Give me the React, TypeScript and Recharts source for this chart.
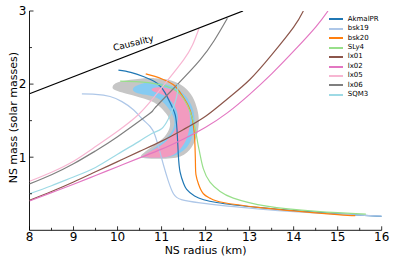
import React from 'react';
import { ComposedChart, Scatter, XAxis, YAxis, Legend, ReferenceDot, Label, Curve } from 'recharts';

type P = [number, number];

const xTicks = [8, 8.5, 9, 9.5, 10, 10.5, 11, 11.5, 12, 12.5, 13, 13.5, 14, 14.5, 15, 15.5, 16];
const yTicks = [0.5, 1, 1.5, 2, 2.5, 3];

const akmalPR: P[] = [[10.02,2.19],[10.3,2.16],[10.6,2.1],[10.89,2.015],[11.08,1.88],[11.23,1.7],[11.31,1.58],[11.35,1.38],[11.38,1.04],[11.42,0.8],[11.5,0.64],[11.57,0.56],[11.75,0.47],[12.25,0.38],[13.24,0.31],[14,0.27],[15,0.225],[16,0.19]];
const bsk19: P[] = [[9.19,1.865],[9.5,1.86],[9.83,1.83],[10.1,1.76],[10.36,1.65],[10.55,1.53],[10.74,1.42],[10.85,1.3],[10.95,1.1],[11.04,0.9],[11.15,0.68],[11.27,0.5],[11.45,0.42],[11.875,0.375],[12.5,0.33],[13.24,0.29],[14,0.255],[15,0.22],[16,0.195]];
const bsk20: P[] = [[10.64,2.14],[10.85,2.105],[11.05,2.06],[11.27,1.99],[11.45,1.86],[11.61,1.7],[11.69,1.55],[11.74,1.35],[11.76,1.13],[11.77,0.9],[11.78,0.766],[11.84,0.63],[11.95,0.5],[12.1,0.44],[12.4,0.38],[13.24,0.31],[14,0.265],[15,0.215],[15.4,0.2]];
const sly4: P[] = [[10.06,2.04],[10.5,2.03],[10.9,2.0],[11.27,1.93],[11.5,1.8],[11.65,1.62],[11.76,1.4],[11.82,1.2],[11.87,1.05],[11.95,0.84],[12.1,0.66],[12.33,0.53],[12.63,0.44],[13.39,0.33],[14.53,0.26],[15.64,0.22]];
const lx01: P[] = [[8,0.41],[8.5,0.53],[9,0.66],[9.5,0.8],[10,0.94],[10.5,1.08],[11,1.22],[11.5,1.38],[12,1.56],[12.5,1.8],[13,2.06],[13.5,2.4],[14,2.78],[14.22,3.0]];
const lx02: P[] = [[8,0.4],[8.5,0.515],[9,0.63],[9.5,0.75],[10,0.87],[10.5,0.99],[11,1.11],[11.5,1.25],[12,1.41],[12.5,1.61],[13,1.86],[13.5,2.14],[14,2.45],[14.5,2.78],[14.78,3.0]];
const lx05: P[] = [[8,0.67],[8.5,0.795],[9,0.945],[9.5,1.145],[10,1.355],[10.47,1.58],[10.8,1.8],[11.15,2.06],[11.5,2.33],[11.7,2.53],[11.85,2.76]];
const lx06: P[] = [[8,0.634],[8.5,0.76],[9,0.91],[9.49,1.083],[10,1.28],[10.7,1.583],[10.85,1.674],[11.4,2.02],[11.875,2.33],[12.2,2.6],[12.495,2.9]];
const sqm3: P[] = [[8,0.5],[8.5,0.61],[9,0.73],[9.5,0.86],[10,1.04],[10.5,1.22],[10.8,1.33],[11.0,1.39],[11.15,1.52],[11.28,1.7],[11.35,1.85],[11.37,1.95],[11.35,2.0]];
const causality: P[] = [[8, 1.868], [12.85, 3.0]];

const grayBand: P[] = [[9.87,1.96],[9.95,2.03],[10.4,2.07],[10.85,2.09],[11.23,2.06],[11.53,1.97],[11.72,1.83],[11.82,1.65],[11.86,1.5],[11.82,1.31],[11.7,1.13],[11.47,0.99],[10.97,0.975],[10.47,0.98],[10.56,1.05],[10.85,1.17],[11.08,1.27],[11.2,1.4],[11.2,1.52],[11.08,1.62],[10.85,1.76],[10.51,1.82],[10.17,1.87],[9.9,1.92]];
const blueBand: P[] = [[10.31,1.944],[10.51,2.01],[10.85,2.03],[11.19,1.99],[11.47,1.9],[11.65,1.76],[11.74,1.62],[11.76,1.45],[11.69,1.24],[11.56,1.11],[11.31,1.01],[10.97,0.99],[10.63,0.99],[10.58,1.02],[10.85,1.13],[11.1,1.24],[11.28,1.38],[11.31,1.515],[11.19,1.65],[10.97,1.815],[10.63,1.856],[10.38,1.88]];
const pinkBand: P[] = [[10.74,1.95],[11.08,1.965],[11.375,1.9],[11.56,1.79],[11.65,1.62],[11.65,1.41],[11.56,1.215],[11.375,1.065],[11.15,0.99],[10.74,0.99],[10.51,1.0],[10.74,1.08],[11.01,1.16],[11.24,1.3],[11.375,1.45],[11.375,1.62],[11.24,1.77],[11.01,1.87],[10.78,1.9]];

const series = [
  { name: 'AkmalPR', color: '#1f77b4', data: akmalPR },
  { name: 'bsk19', color: '#aec7e8', data: bsk19 },
  { name: 'bsk20', color: '#ff7f0e', data: bsk20 },
  { name: 'SLy4', color: '#98df8a', data: sly4 },
  { name: 'lx01', color: '#8c564b', data: lx01 },
  { name: 'lx02', color: '#e377c2', data: lx02 },
  { name: 'lx05', color: '#f7b6d2', data: lx05 },
  { name: 'lx06', color: '#7f7f7f', data: lx06 },
  { name: 'SQM3', color: '#9edae5', data: sqm3 },
];

const bands = [
  { name: 'gray', color: '#c6c6c6', data: grayBand },
  { name: 'blue', color: '#86cbf2', data: blueBand },
  { name: 'pink', color: '#f29bbf', data: pinkBand },
];

const toData = (pts: P[]) => pts.map(([r, m]) => ({ r, m }));
const FONT = 'DejaVu Sans';
const isMajor = (v: number) => Math.abs(v - Math.round(v)) < 1e-6;

const BottomTick = (p: any) => {
  const { x, y, payload } = p;
  const v = payload.value;
  const major = isMajor(v);
  return (
    <g>
      <line x1={x} x2={x} y1={y} y2={y - (major ? 4 : 2.5)} stroke="#000" strokeWidth={0.8} />
      {major && (
        <text x={x} y={y + 11} textAnchor="middle" fontSize={12} fontFamily={FONT} fill="#000">{v}</text>
      )}
    </g>
  );
};
const TopTick = (p: any) => {
  const { x, y, payload } = p;
  const major = isMajor(payload.value);
  return <line x1={x} x2={x} y1={y} y2={y + (major ? 4 : 2.5)} stroke="#000" strokeWidth={0.8} />;
};
const LeftTick = (p: any) => {
  const { x, y, payload } = p;
  const v = payload.value;
  const major = isMajor(v);
  return (
    <g>
      <line x1={x} x2={x + (major ? 4 : 2.5)} y1={y} y2={y} stroke="#000" strokeWidth={0.8} />
      {major && (
        <text x={x - 3} y={y + 4.3} textAnchor="end" fontSize={12} fontFamily={FONT} fill="#000">{v}</text>
      )}
    </g>
  );
};
const RightTick = (p: any) => {
  const { x, y, payload } = p;
  const major = isMajor(payload.value);
  return <line x1={x} x2={x - (major ? 4 : 2.5)} y1={y} y2={y} stroke="#000" strokeWidth={0.8} />;
};

const CausalityLabel = (p: any) => {
  const vb = p.viewBox || {};
  const cx = (vb.cx ?? (vb.x + (vb.width || 0) / 2));
  const cy = (vb.cy ?? (vb.y + (vb.height || 0) / 2));
  return (
    <text x={cx} y={cy} transform={`rotate(-14, ${cx}, ${cy})`} textAnchor="middle" fontSize={9} fontFamily={FONT} fill="#000">
      Causality
    </text>
  );
};

const LegendContent = () => (
  <div style={{ fontFamily: FONT, fontSize: 7, color: '#000' }}>
    {series.map((s) => (
      <div key={s.name} style={{ display: 'flex', alignItems: 'center', height: 9.46 }}>
        <svg width={14} height={4} style={{ marginRight: 4.4, display: 'block' }}>
          <line x1={0} y1={2} x2={14} y2={2} stroke={s.color} strokeWidth={2} />
        </svg>
        <span style={{ lineHeight: '9.46px' }}>{s.name}</span>
      </div>
    ))}
  </div>
);

const hidden = () => <g />;

export default function App() {
  return (
    <div style={{ position: 'absolute', left: 0, top: 0 }}>
      <ComposedChart width={397} height={264} margin={{ top: 11, right: 15.3, bottom: 0, left: 0 }}>
        <XAxis dataKey="r" type="number" domain={[8, 16]} ticks={xTicks} interval={0} allowDataOverflow
          tickSize={0} tickMargin={0} tickLine={false} axisLine={{ stroke: '#000', strokeWidth: 0.9 }} height={33.7} tick={<BottomTick />}>
          <Label content={(p: any) => {
            const vb = p.viewBox;
            return <text x={vb.x + vb.width / 2} y={vb.y + vb.height - 10.5} textAnchor="middle" fontSize={11} fontFamily={FONT} fill="#000">NS radius (km)</text>;
          }} />
        </XAxis>
        <XAxis xAxisId="top" orientation="top" type="number" domain={[8, 16]} ticks={xTicks} interval={0} allowDataOverflow
          tickSize={0} tickMargin={0} tickLine={false} axisLine={{ stroke: '#000', strokeWidth: 0.9 }} height={0} tick={<TopTick />} />
        <YAxis dataKey="m" type="number" domain={[0, 3]} ticks={yTicks} interval={0} allowDataOverflow
          tickSize={0} tickMargin={0} tickLine={false} axisLine={{ stroke: '#000', strokeWidth: 0.9 }} width={29.5} tick={<LeftTick />}>
          <Label content={(p: any) => {
            const vb = p.viewBox;
            const cy = vb.y + vb.height / 2 - 3;
            return <text transform={`translate(${vb.x + 16.5}, ${cy}) rotate(-90)`} textAnchor="middle" fontSize={11} fontFamily={FONT} fill="#000">NS mass (solar masses)</text>;
          }} />
        </YAxis>
        <YAxis yAxisId="right" orientation="right" type="number" domain={[0, 3]} ticks={yTicks} interval={0} allowDataOverflow
          tickSize={0} tickMargin={0} tickLine={false} axisLine={{ stroke: '#000', strokeWidth: 0.9 }} width={0} tick={<RightTick />} />

        {bands.map((b) => (
          <Scatter key={b.name} name={b.name} data={toData(b.data)} fill={b.color} isAnimationActive={false} legendType="none"
            shape={hidden}
            line={(lp: any) => <Curve points={lp.points} type="basisClosed" fill={b.color} stroke="none" />} />
        ))}

        {series.map((s) => (
          <Scatter key={s.name} name={s.name} data={toData(s.data)} fill={s.color} isAnimationActive={false}
            shape={hidden}
            line={(lp: any) => <Curve points={lp.points} type="natural" fill="none" stroke={s.color} strokeWidth={1.2} />} />
        ))}
        <Scatter name="Causality" data={toData(causality)} fill="#000" isAnimationActive={false} legendType="none"
          shape={hidden}
          line={(lp: any) => <Curve points={lp.points} type="linear" fill="none" stroke="#000" strokeWidth={1.3} />} />
        <ReferenceDot x={10.375} y={2.52} r={0} fill="none" stroke="none" label={<CausalityLabel />} />
        <Legend layout="vertical" align="center" verticalAlign="middle" content={<LegendContent />}
          wrapperStyle={{ left: 329.3, top: 14.6, width: 60, height: 'auto' }} />
      </ComposedChart>
    </div>
  );
}
